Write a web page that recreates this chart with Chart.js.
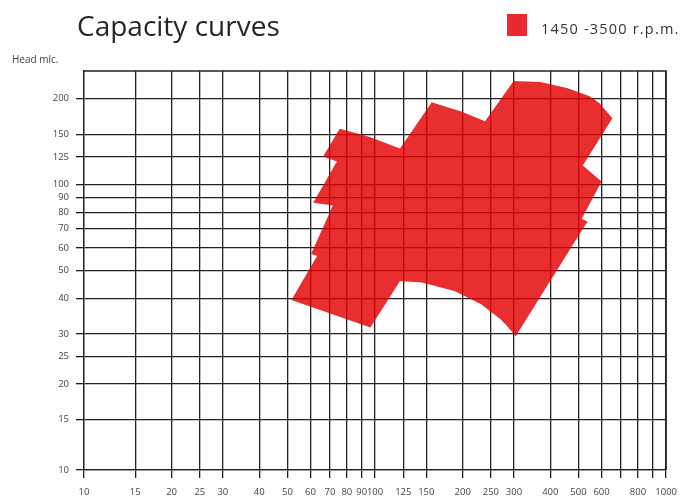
<!DOCTYPE html>
<html><head><meta charset="utf-8">
<script src="https://cdn.jsdelivr.net/npm/chart.js@4/dist/chart.umd.min.js"></script>
<style>
html,body{margin:0;padding:0;background:#fff;}
#wrap{position:relative;width:686px;height:502px;overflow:hidden;}
canvas{position:absolute;left:0;top:0;}
.t{position:absolute;font-family:"Open Sans",sans-serif;color:#222;white-space:nowrap;line-height:1;}
</style></head><body>
<div id="wrap">
<canvas id="c" width="686" height="502"></canvas>
<div class="t" id="title" style="left:77px;top:11px;font-size:28px;color:#262626">Capacity curves</div>
<div id="lgbox" style="position:absolute;left:507px;top:14px;width:20px;height:22px;background:#e82a2e"></div>
<div class="t" id="lgtext" style="left:541px;top:22px;font-size:14.5px;letter-spacing:1.2px;color:#333"></div>
<div class="t" id="ytitle" style="left:12px;top:54px;font-size:10px;color:#444">Head mlc.</div>
</div>
<script>
// Capacity envelope (flow Q on x, head H on y), clockwise
const flowQ = [75.6, 95.4, 121.8, 156.5, 197.8, 238.6, 299.2, 369.6, 456.4, 546, 590.6, 653.8,
               517.2, 600, 512.9, 537.8, 525.4, 304.1, 285, 270.4, 231.3, 187.3, 144.7, 121.8,
               96.4, 51.6, 63.2, 60.3, 71.6, 61.3, 73.9, 66.3];
const headH = [157, 147.2, 133.9, 194.4, 180.3, 166.7, 230.6, 228.7, 217.8, 204, 192.8, 170.8,
               116.6, 102.5, 75.9, 74.1, 71.7, 29.4, 31.8, 33.7, 38.1, 42.4, 45.4, 45.9,
               31.6, 39.4, 56.2, 57.2, 84.4, 86.4, 120.5, 125.5];
const xTickValues = [10,15,20,25,30,40,50,60,70,80,90,100,125,150,200,250,300,400,500,600,700,800,900,1000];
const xTickLabels = ['10','15','20','25','30','40','50','60','70','80','90','100','125','150','200','250','300','400','500','600','','800','','1000'];
const yTickValues = [10,15,20,25,30,40,50,60,70,80,90,100,125,150,200];
const yTickLabels = ['10','15','20','25','30','40','50','60','70','80','90','100','125','150','200'];
const seriesLabel = '1450 -3500 r.p.m.';
// translucent red: reads as a strong red on white and lets the grid show through
const seriesFill = 'rgba(227,0,0,0.82)';

document.getElementById('lgtext').textContent = seriesLabel;

const pts = flowQ.map((q, i) => ({x: q, y: headH[i]}));
pts.push(pts[0]);

const gridColor = '#222222';
const tickFont = {family: '"Open Sans", sans-serif', size: 9.5};

new Chart(document.getElementById('c').getContext('2d'), {
  type: 'scatter',
  data: {datasets: [{
    label: seriesLabel, data: pts, showLine: true, fill: 'shape',
    backgroundColor: seriesFill, borderColor: 'rgba(0,0,0,0)', borderWidth: 0,
    pointRadius: 0, tension: 0
  }]},
  options: {
    responsive: false, animation: false,
    layout: {padding: {top: 71, right: 10, left: 0, bottom: 0}},
    plugins: {legend: {display: false}, tooltip: {enabled: false}},
    scales: {
      x: {
        type: 'logarithmic', min: 10, max: 1000,
        afterBuildTicks: s => { s.ticks = xTickValues.map(v => ({value: v})); },
        afterFit: s => { s.height = 32; },
        ticks: {autoSkip: false, maxRotation: 0, minRotation: 0, padding: 9, font: tickFont, color: '#444',
                callback: (v, i) => xTickLabels[i]},
        grid: {color: gridColor, lineWidth: 1.3, tickLength: 8, drawTicks: true},
        border: {display: true, color: gridColor, width: 1.3}
      },
      y: {
        type: 'logarithmic', min: 10, max: 250,
        afterBuildTicks: s => { s.ticks = yTickValues.map(v => ({value: v})); },
        afterFit: s => { s.width = 84; },
        ticks: {autoSkip: false, padding: 7, font: tickFont, color: '#444',
                callback: (v, i) => yTickLabels[i]},
        grid: {color: gridColor, lineWidth: 1.3, tickLength: 8, drawTicks: true},
        border: {display: true, color: gridColor, width: 1.3}
      }
    }
  },
  plugins: [{
    id: 'frame',
    afterDraw(c) {
      const a = c.chartArea, g = c.ctx;
      g.save(); g.strokeStyle = gridColor; g.lineWidth = 1.3;
      g.beginPath(); g.moveTo(a.left, a.top); g.lineTo(a.right, a.top); g.lineTo(a.right, a.bottom); g.stroke();
      g.restore();
    }
  }]
});
</script>
</body></html>
